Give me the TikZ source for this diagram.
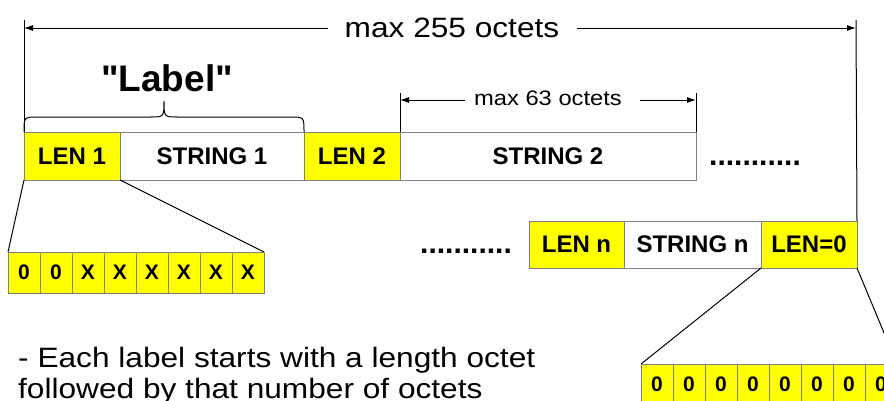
\documentclass[tikz,border=0pt]{standalone}
\usepackage{fontspec}
\setmainfont{Liberation Sans}
\newfontfamily\widefont{Liberation Sans}[FakeStretch=1.13]
\newfontfamily\labelfont{Liberation Sans}
\usetikzlibrary{arrows.meta}
\definecolor{boxyellow}{RGB}{255,255,0}
\definecolor{boxgray}{RGB}{128,128,128}
\tikzset{
  cell/.style={draw=boxgray, line width=1pt, inner sep=0pt, outer sep=0pt, anchor=north west,
    font=\fontsize{24}{28}\selectfont\bfseries, minimum height=48},
  ycell/.style={cell, fill=boxyellow},
  wcell/.style={cell, fill=white},
  bitcell/.style={draw=boxgray, line width=1pt, fill=boxyellow, inner sep=0pt, outer sep=0pt,
    anchor=north west, minimum width=32, minimum height=41, font=\fontsize{21}{24}\selectfont\bfseries},
  thinline/.style={line width=1pt, black},
  dimline/.style={thinline, -{Latex[length=9pt,width=6pt]}},
  dotrow/.style={font=\fontsize{30}{34}\selectfont\bfseries, anchor=base, inner sep=0pt},
  widetext/.style={inner sep=0pt, font=\widefont\fontsize{#1}{#1}\selectfont},
}
\begin{document}
\begin{tikzpicture}[x=1pt,y=-1pt]
\useasboundingbox[fill=white] (0,0) rectangle (884,400);
\begin{scope}
\clip (0,0) rectangle (884,400);

% row 1
\node[ycell, minimum width=96]  (len1) at (24,132)  {LEN 1};
\node[wcell, minimum width=184] (str1) at (120,132) {STRING 1};
\node[ycell, minimum width=96]  (len2) at (304,132) {LEN 2};
\node[wcell, minimum width=296] (str2) at (400,132) {STRING 2};
\node[dotrow] (dots1) at (755,165) {...........};

% row 2
\node[dotrow] (dots2) at (466,253) {...........};
\node[ycell, minimum width=95, minimum height=47]  (lenn) at (529,221) {LEN n};
\node[wcell, minimum width=137, minimum height=47] (strn) at (624,221) {STRING n};
\node[ycell, minimum width=96, minimum height=47]  (len0) at (761,221) {LEN=0};

% left bit boxes
\node[bitcell] (b1) at (8,252)   {0};
\node[bitcell] (b2) at (40,252)  {0};
\node[bitcell] (b3) at (72,252)  {X};
\node[bitcell] (b4) at (104,252) {X};
\node[bitcell] (b5) at (136,252) {X};
\node[bitcell] (b6) at (168,252) {X};
\node[bitcell] (b7) at (200,252) {X};
\node[bitcell] (b8) at (232,252) {X};

% right bit boxes
\node[bitcell] (r1) at (641,364) {0};
\node[bitcell] (r2) at (673,364) {0};
\node[bitcell] (r3) at (705,364) {0};
\node[bitcell] (r4) at (737,364) {0};
\node[bitcell] (r5) at (769,364) {0};
\node[bitcell] (r6) at (801,364) {0};
\node[bitcell] (r7) at (833,364) {0};
\node[bitcell] (r8) at (865,364) {0};

% expansion lines
\draw[thinline] (len1.south west) -- (b1.north west);
\draw[thinline] (len1.south east) -- (b8.north east);
\draw[thinline] (len0.south west) -- (r1.north west);
\draw[thinline] (len0.south east) -- (r8.north east);

% brace
\draw[thinline] (len1.north west) .. controls (24,117) .. (38,117) -- (150,117)
  .. controls (164,117) .. (164,101) .. controls (164,117) .. (178,117) -- (290,117)
  .. controls (304,117) .. (len2.north west);
\node[inner sep=0pt, anchor=base, font=\labelfont\fontsize{37}{40}\selectfont\bfseries] (lbl) at (167,91) {"Label"};

% max 255 octets
\coordinate (top1) at (24,20);
\coordinate (top2) at (856,20);
\draw[thinline] (top1) -- (len1.north west);
\draw[thinline] (top2) -- (len0.north east);
\node[widetext=28, anchor=base] (t255) at (452,37) {max 255 octets};
\coordinate (a255l) at (328,28);
\coordinate (a255r) at (577,28);
\draw[dimline] (a255l) -- (top1 |- a255l);
\draw[dimline] (a255r) -- (top2 |- a255r);

% max 63 octets
\coordinate (top3) at (400,93);
\coordinate (top4) at (696,93);
\draw[thinline] (top3) -- (str2.north west);
\draw[thinline] (top4) -- (str2.north east);
\node[widetext=21, anchor=base] (t63) at (548,105) {max 63 octets};
\coordinate (a63l) at (465,100);
\coordinate (a63r) at (640,100);
\draw[dimline] (a63l) -- (top3 |- a63l);
\draw[dimline] (a63r) -- (top4 |- a63r);

% bottom text
\node[widetext=28, anchor=base west] (note1) at (18,367) {- Each label starts with a length octet};
\node[widetext=28, anchor=base west] (note2) at (18,398) {followed by that number of octets};
\end{scope}
\end{tikzpicture}
\end{document}
